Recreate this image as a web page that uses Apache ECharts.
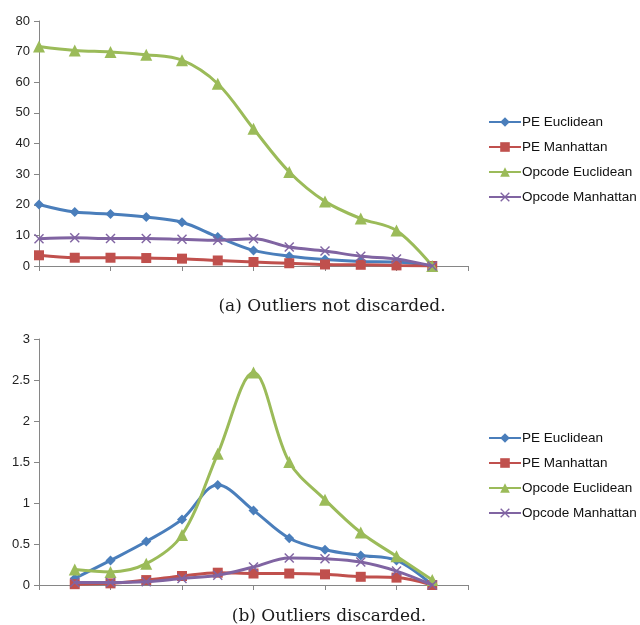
<!DOCTYPE html>
<html>
<head>
<meta charset="utf-8">
<script src="https://cdn.jsdelivr.net/npm/echarts@6/dist/echarts.min.js"></script>
<style>
  html, body { margin: 0; padding: 0; background: #fff; }
  #chart { width: 640px; height: 625px; }
</style>
</head>
<body>
<div id="chart"></div>
<script>
// Series names shared by both panels
const seriesNames = ['PE Euclidean', 'PE Manhattan', 'Opcode Euclidean', 'Opcode Manhattan'];

// Panel (a): outliers not discarded, positions 0..11
const topX = [0, 1, 2, 3, 4, 5, 6, 7, 8, 9, 10, 11];
const topPeEuclidean     = [20.1, 17.6, 17.0, 16.0, 14.3, 9.5, 5.1, 3.2, 2.1, 1.5, 1.3, 0];
const topPeManhattan     = [3.5, 2.7, 2.7, 2.6, 2.4, 1.8, 1.3, 0.9, 0.5, 0.4, 0.2, 0];
const topOpEuclidean     = [71.7, 70.4, 69.9, 69.0, 67.2, 59.5, 44.8, 30.7, 21.1, 15.5, 11.6, 0];
const topOpManhattan     = [8.9, 9.2, 9.0, 9.0, 8.7, 8.4, 8.9, 6.2, 4.9, 3.2, 2.3, 0];

// Panel (b): outliers discarded, positions 1..11
const botX = [1, 2, 3, 4, 5, 6, 7, 8, 9, 10, 11];
const botPeEuclidean     = [0.08, 0.30, 0.53, 0.80, 1.22, 0.91, 0.57, 0.43, 0.36, 0.30, 0];
const botPeManhattan     = [0.01, 0.02, 0.06, 0.11, 0.15, 0.14, 0.14, 0.13, 0.10, 0.09, 0];
const botOpEuclidean     = [0.19, 0.16, 0.26, 0.61, 1.60, 2.59, 1.50, 1.04, 0.64, 0.35, 0.06];
const botOpManhattan     = [0.03, 0.03, 0.04, 0.08, 0.12, 0.22, 0.33, 0.32, 0.28, 0.17, 0];

const captions = ['(a) Outliers not discarded.', '(b) Outliers discarded.'];

const colors = ['#4a7ebb', '#c0504d', '#9bbb59', '#8064a2'];
const crossPath = 'path://M0,1L1,0L5,4L9,0L10,1L6,5L10,9L9,10L5,6L1,10L0,9L4,5Z';
const symbols = ['diamond', 'rect', 'triangle', crossPath];
const symbolSizes = [10, 10, 12, 10];

function pairs(xs, ys) {
  return xs.map((x, i) => [x, ys[i]]);
}

function makeSeries(idx, ys, xs, gridIdx) {
  return {
    name: seriesNames[idx],
    type: 'line',
    xAxisIndex: gridIdx,
    yAxisIndex: gridIdx,
    data: pairs(xs, ys),
    smooth: 0.35,
    symbol: symbols[idx],
    symbolSize: symbolSizes[idx],
    showAllSymbol: true,
    lineStyle: { width: 3, color: colors[idx] },
    itemStyle: { color: colors[idx] },
    z: 2 + idx
  };
}

const axisGray = '#868686';

function xAxisCfg(gridIdx) {
  return {
    type: 'value', gridIndex: gridIdx, min: 0, max: 12, interval: 2,
    axisLine: { show: true, lineStyle: { color: axisGray, width: 1 } },
    axisTick: { show: true, inside: false, length: 5, lineStyle: { color: axisGray } },
    axisLabel: { show: false },
    splitLine: { show: false }
  };
}

function yAxisCfg(gridIdx, max, interval) {
  return {
    type: 'value', gridIndex: gridIdx, min: 0, max: max, interval: interval,
    axisLine: { show: true, lineStyle: { color: axisGray, width: 1 } },
    axisTick: { show: true, inside: false, length: 5, lineStyle: { color: axisGray } },
    axisLabel: { color: '#222', fontSize: 13, fontFamily: 'Liberation Sans, Arial, sans-serif', margin: 9 },
    splitLine: { show: false }
  };
}

function legendCfg(top) {
  return {
    data: seriesNames,
    orient: 'vertical',
    left: 483,
    top: top,
    itemWidth: 32,
    itemHeight: 12,
    itemGap: 11,
    textStyle: { color: '#111', fontSize: 13.5, fontFamily: 'Liberation Sans, Arial, sans-serif', padding: [0, 0, 0, -4] }
  };
}

const chart = echarts.init(document.getElementById('chart'), null, { renderer: 'canvas' });

const captionStyle = { fontFamily: 'DejaVu Serif, Liberation Serif, serif', fontSize: 17, fontWeight: 'normal', color: '#1a1a1a' };

chart.setOption({
  animation: false,
  backgroundColor: '#fff',
  title: [
    { text: captions[0], left: 327, top: 293, textAlign: 'center', textStyle: captionStyle },
    { text: captions[1], left: 324, top: 603, textAlign: 'center', textStyle: captionStyle }
  ],
  legend: [legendCfg(110), legendCfg(426)],
  grid: [
    { left: 39, top: 21, width: 429, height: 245 },
    { left: 39, top: 339, width: 429, height: 246 }
  ],
  xAxis: [xAxisCfg(0), xAxisCfg(1)],
  yAxis: [yAxisCfg(0, 80, 10), yAxisCfg(1, 3, 0.5)],
  series: [
    makeSeries(0, topPeEuclidean, topX, 0),
    makeSeries(1, topPeManhattan, topX, 0),
    makeSeries(2, topOpEuclidean, topX, 0),
    makeSeries(3, topOpManhattan, topX, 0),
    makeSeries(0, botPeEuclidean, botX, 1),
    makeSeries(1, botPeManhattan, botX, 1),
    makeSeries(2, botOpEuclidean, botX, 1),
    makeSeries(3, botOpManhattan, botX, 1)
  ]
});
</script>
</body>
</html>
